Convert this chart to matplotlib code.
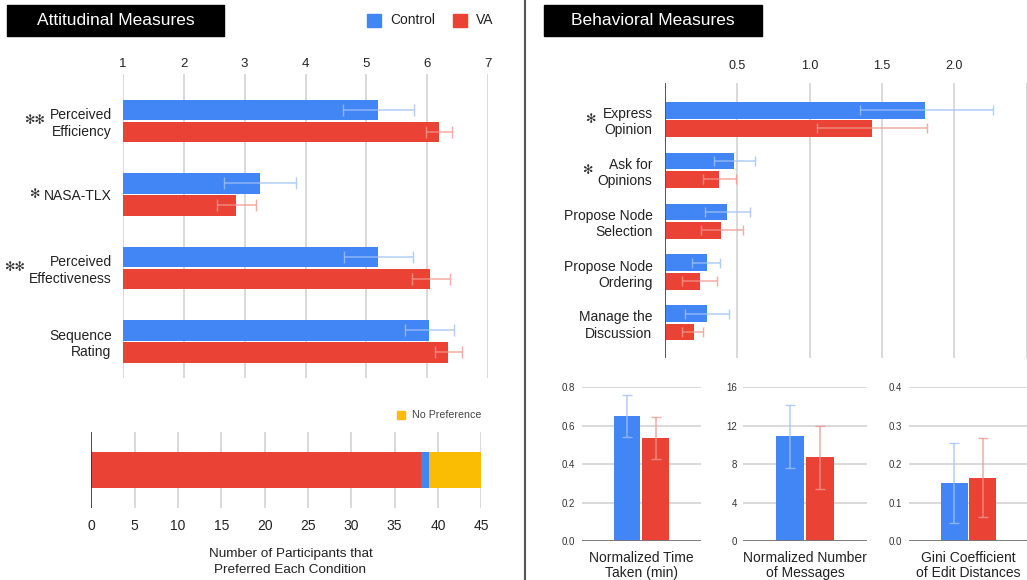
import matplotlib.pyplot as plt
from matplotlib.patches import Rectangle
import numpy as np

plt.rcParams['font.family'] = ['Liberation Sans', 'DejaVu Sans']

W, H = 1027, 580
BLUE = '#4285f4'
RED = '#ea4335'
YELLOW = '#fbbc04'
BLUE_ERR = '#9fc1fa'
RED_ERR = '#f2968d'
GRID = '#d3d3d3'

# attitudinal measures (1-7 scale)
att_labels = ['Perceived\nEfficiency', 'NASA-TLX', 'Perceived\nEffectiveness', 'Sequence\nRating']
att_stars = ['✻✻', '✻', '✻✻', '']
att_control = [5.19, 3.26, 5.19, 6.03]
att_control_lo = [4.62, 2.66, 4.63, 5.63]
att_control_hi = [5.78, 3.85, 5.76, 6.43]
att_va = [6.19, 2.86, 6.04, 6.34]
att_va_lo = [5.98, 2.55, 5.74, 6.13]
att_va_hi = [6.40, 3.18, 6.37, 6.57]

# behavioral measures
beh_labels = ['Express\nOpinion', 'Ask for\nOpinions', 'Propose Node\nSelection',
              'Propose Node\nOrdering', 'Manage the\nDiscussion']
beh_stars = ['✻', '✻', '', '', '']
beh_control = [1.80, 0.48, 0.43, 0.29, 0.29]
beh_control_lo = [1.35, 0.34, 0.28, 0.19, 0.14]
beh_control_hi = [2.27, 0.625, 0.585, 0.38, 0.445]
beh_va = [1.43, 0.37, 0.39, 0.24, 0.20]
beh_va_lo = [1.05, 0.26, 0.25, 0.12, 0.12]
beh_va_hi = [1.815, 0.49, 0.54, 0.36, 0.265]

# preference counts
pref_va = 38
pref_control = 1
pref_none = 6

# small bar charts
small_titles = ['Normalized Time\nTaken (min)', 'Normalized Number\nof Messages',
                'Gini Coefficient\nof Edit Distances']
small_control = [0.65, 10.9, 0.150]
small_control_err = [(0.54, 0.76), (7.6, 14.2), (0.048, 0.254)]
small_va = [0.535, 8.7, 0.165]
small_va_err = [(0.425, 0.645), (5.4, 12.0), (0.062, 0.269)]
small_ticks = [[0.0, 0.2, 0.4, 0.6, 0.8], [0, 4, 8, 12, 16], [0.0, 0.1, 0.2, 0.3, 0.4]]
small_ticklabels = [['0.0', '0.2', '0.4', '0.6', '0.8'], ['0', '4', '8', '12', '16'],
                    ['0.0', '0.1', '0.2', '0.3', '0.4']]


def rect(x0, y0, x1, y1):
    return [x0 / W, 1 - y1 / H, (x1 - x0) / W, (y1 - y0) / H]


def errs(vals, lo, hi):
    v = np.array(vals)
    return np.vstack([v - np.array(lo), np.array(hi) - v])


fig = plt.figure(figsize=(W / 100, H / 100), dpi=100)

# title boxes + divider
for x0, x1, txt in [(7, 224, 'Attitudinal Measures'), (544, 762, 'Behavioral Measures')]:
    fig.patches.append(Rectangle((x0 / W, 1 - 36 / H), (x1 - x0) / W, 31 / H,
                                 transform=fig.transFigure, color='black'))
    fig.text((x0 + x1) / 2 / W, 1 - 20.5 / H, txt, color='white', fontsize=12.5,
             ha='center', va='center')
fig.add_artist(plt.Line2D([525 / W, 525 / W], [0, 1], color='#555555', lw=1.5,
                          transform=fig.transFigure))

# legend
for x0, txt in [(367, 'Control'), (453, 'VA')]:
    col = BLUE if txt == 'Control' else RED
    fig.patches.append(Rectangle((x0 / W, 1 - 27 / H), 14 / W, 13 / H,
                                 transform=fig.transFigure, color=col))
    fig.text((x0 + 23) / W, 1 - 20.5 / H, txt, fontsize=10, va='center', color='#222222')

# ---- attitudinal ----
ax = fig.add_axes(rect(122.7, 74, 488.3, 378))
y = np.arange(len(att_labels))
off, bh = 0.15, 0.28
ax.barh(y - off, np.array(att_control) - 1, left=1, height=bh, color=BLUE, zorder=2)
ax.barh(y + off, np.array(att_va) - 1, left=1, height=bh, color=RED, zorder=2)
ax.errorbar(att_control, y - off, xerr=errs(att_control, att_control_lo, att_control_hi),
            fmt='none', ecolor=BLUE_ERR, elinewidth=1.1, capsize=4.3, alpha=0.8, zorder=3)
ax.errorbar(att_va, y + off, xerr=errs(att_va, att_va_lo, att_va_hi),
            fmt='none', ecolor=RED_ERR, elinewidth=1.1, capsize=4.3, alpha=0.8, zorder=3)
ax.set_xlim(1, 7)
ax.set_ylim(3.5, -0.64)
ax.set_xticks(range(1, 8))
ax.xaxis.tick_top()
ax.tick_params(axis='x', length=0, pad=3, labelsize=9.5, labelcolor='#222222')
ax.set_yticks(y)
ax.set_yticklabels(att_labels, fontsize=10, color='#222222')
ax.tick_params(axis='y', length=0, pad=8)
ax.grid(axis='x', color=GRID, lw=1.2, zorder=0)
for s in ax.spines.values():
    s.set_visible(False)
for yi, st, xp in zip(y, att_stars, [35, 34, 15, 0]):
    if st:
        ax.annotate(st, xy=(xp, yi), xycoords=('figure pixels', 'data'),
                    fontsize=9, family='DejaVu Sans', ha='center', va='center', color='#333333')

# ---- behavioral ----
ax = fig.add_axes(rect(665, 82.7, 1026.5, 358))
y = np.arange(len(beh_labels))
off, bh = 0.18, 0.33
ax.barh(y - off, beh_control, height=bh, color=BLUE, zorder=2)
ax.barh(y + off, beh_va, height=bh, color=RED, zorder=2)
ax.errorbar(beh_control, y - off, xerr=errs(beh_control, beh_control_lo, beh_control_hi),
            fmt='none', ecolor=BLUE_ERR, elinewidth=1.1, capsize=3.6, alpha=0.8, zorder=3)
ax.errorbar(beh_va, y + off, xerr=errs(beh_va, beh_va_lo, beh_va_hi),
            fmt='none', ecolor=RED_ERR, elinewidth=1.1, capsize=3.6, alpha=0.8, zorder=3)
ax.set_xlim(0, 2.5)
ax.set_ylim(4.69, -0.72)
ax.set_xticks([0.5, 1.0, 1.5, 2.0, 2.5])
ax.set_xticklabels(['0.5', '1.0', '1.5', '2.0', ''])
ax.xaxis.tick_top()
ax.tick_params(axis='x', length=0, pad=8, labelsize=9, labelcolor='#222222')
ax.set_yticks(y)
ax.set_yticklabels(beh_labels, fontsize=10, color='#222222')
ax.tick_params(axis='y', length=0, pad=9)
ax.grid(axis='x', color=GRID, lw=1.2, zorder=0)
for s in ax.spines.values():
    s.set_visible(False)
ax.axvline(0, color='#555555', lw=1.4, zorder=4)
for yi, st, xp in zip(y, beh_stars, [590.5, 587.5, 0, 0, 0]):
    if st:
        ax.annotate(st, xy=(xp, yi), xycoords=('figure pixels', 'data'),
                    fontsize=9, family='DejaVu Sans', ha='center', va='center', color='#333333')

# ---- preference ----
ax = fig.add_axes(rect(91.3, 431.7, 481.3, 508.3))
ax.barh(0, pref_va, height=0.483, color=RED, zorder=2)
ax.barh(0, pref_control, left=pref_va, height=0.483, color=BLUE, zorder=2)
ax.barh(0, pref_none, left=pref_va + pref_control, height=0.483, color=YELLOW, zorder=2)
ax.set_xlim(0, 45)
ax.set_ylim(-0.5, 0.5)
ax.set_xticks(range(0, 46, 5))
ax.set_yticks([])
ax.tick_params(axis='x', length=0, pad=8, labelsize=10, labelcolor='#222222')
ax.grid(axis='x', color=GRID, lw=1.2, zorder=0)
for s in ax.spines.values():
    s.set_visible(False)
ax.axvline(0, color='#333333', lw=1.2, zorder=4)
fig.text(290.5 / W, 1 - 562 / H, 'Number of Participants that\nPreferred Each Condition',
         fontsize=9.7, ha='center', va='center', color='#222222', linespacing=1.35)
fig.patches.append(Rectangle((397 / W, 1 - 418.5 / H), 8 / W, 8 / H,
                             transform=fig.transFigure, color=YELLOW))
fig.text(412 / W, 1 - 414.5 / H, 'No Preference', fontsize=7.7, va='center', color='#444444')

# ---- small charts ----
for i, (x0, x1) in enumerate([(581.7, 701), (743, 867), (908.5, 1028.5)]):
    ax = fig.add_axes(rect(x0, 387.3, x1, 541))
    top = small_ticks[i][-1]
    ax.bar(-0.24, small_control[i], width=0.45, color=BLUE, zorder=2)
    ax.bar(0.24, small_va[i], width=0.45, color=RED, zorder=2)
    lo, hi = small_control_err[i]
    ax.errorbar([-0.24], [small_control[i]],
                yerr=[[small_control[i] - lo], [hi - small_control[i]]],
                fmt='none', ecolor=BLUE_ERR, elinewidth=1.1, capsize=3.6, alpha=0.8, zorder=3)
    lo, hi = small_va_err[i]
    ax.errorbar([0.24], [small_va[i]],
                yerr=[[small_va[i] - lo], [hi - small_va[i]]],
                fmt='none', ecolor=RED_ERR, elinewidth=1.1, capsize=3.6, alpha=0.8, zorder=3)
    ax.set_xlim(-1, 1)
    ax.set_ylim(0, top)
    ax.set_yticks(small_ticks[i])
    ax.set_yticklabels(small_ticklabels[i])
    ax.set_xticks([])
    ax.tick_params(axis='y', length=0, pad=4.5, labelsize=7, labelcolor='#333333')
    ax.grid(axis='y', color=GRID, lw=1.2, zorder=0)
    ax.set_axisbelow(True)
    for s in ax.spines.values():
        s.set_visible(False)
    ax.axhline(0, color='#777777', lw=1.3, zorder=4)
    ax.set_xlabel(small_titles[i], fontsize=10, color='#222222', labelpad=7, linespacing=1.15)

fig.savefig('out.png', dpi=100)
